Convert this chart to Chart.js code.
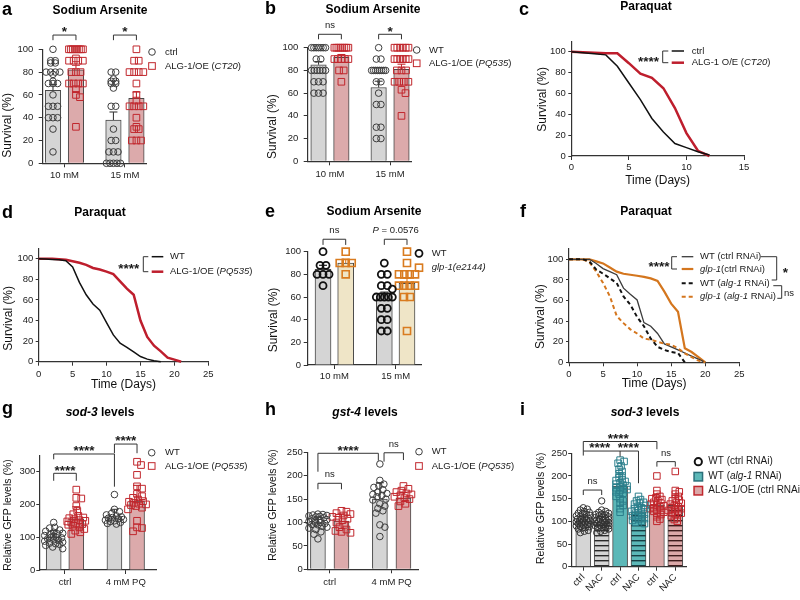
<!DOCTYPE html>
<html>
<head>
<meta charset="utf-8">
<script src="https://cdn.jsdelivr.net/npm/chart.js@4.4.1/dist/chart.umd.min.js"></script>
<style>
  body { margin: 0; width: 800px; height: 600px; position: relative; overflow: hidden; background: #fff; }
  canvas { position: absolute; }
  .lt { position: absolute; font: bold 18px 'Liberation Sans', Arial, sans-serif; line-height: 1; color: #000; }
  .tt { position: absolute; font: bold 12px 'Liberation Sans', Arial, sans-serif; line-height: 1; color: #000; transform: translateX(-50%); white-space: nowrap; }
</style>
</head>
<body>
<canvas id="pa" width="266" height="200" style="left:0;top:0"></canvas>
<canvas id="pb" width="266" height="200" style="left:266px;top:0"></canvas>
<canvas id="pc" width="268" height="200" style="left:532px;top:0"></canvas>
<canvas id="pd" width="266" height="200" style="left:0;top:200px"></canvas>
<canvas id="pe" width="266" height="200" style="left:266px;top:200px"></canvas>
<canvas id="pf" width="268" height="200" style="left:532px;top:200px"></canvas>
<canvas id="pg" width="266" height="200" style="left:0;top:400px"></canvas>
<canvas id="ph" width="266" height="200" style="left:266px;top:400px"></canvas>
<canvas id="pi" width="268" height="200" style="left:532px;top:400px"></canvas>

<div class="lt" style="left:2px;top:-0.2px">a</div>
<div class="lt" style="left:265px;top:-1.2px">b</div>
<div class="lt" style="left:519px;top:-0.2px">c</div>
<div class="lt" style="left:2px;top:202.8px">d</div>
<div class="lt" style="left:265px;top:201.8px">e</div>
<div class="lt" style="left:520px;top:201.8px">f</div>
<div class="lt" style="left:2px;top:398.8px">g</div>
<div class="lt" style="left:265px;top:399.8px">h</div>
<div class="lt" style="left:520px;top:399.8px">i</div>

<div class="tt" style="left:100px;top:3.8px">Sodium Arsenite</div>
<div class="tt" style="left:373px;top:3.1px">Sodium Arsenite</div>
<div class="tt" style="left:646px;top:0.3px">Paraquat</div>
<div class="tt" style="left:100px;top:206.3px">Paraquat</div>
<div class="tt" style="left:374px;top:204.8px">Sodium Arsenite</div>
<div class="tt" style="left:646px;top:204.8px">Paraquat</div>
<div class="tt" style="left:100px;top:406.3px"><i>sod-3</i> levels</div>
<div class="tt" style="left:365px;top:406.3px"><i>gst-4</i> levels</div>
<div class="tt" style="left:645px;top:406.3px"><i>sod-3</i> levels</div>

<script>
const F = "'Liberation Sans', Arial, sans-serif";

// a - sodium arsenite, ctrl vs ALG-1/OE (CT20)
const aGroups = ['10 mM', '15 mM'];
const aCtrlBar = [64, 38];
const aCtrlErr = [5, 7];
const aOeBar = [82, 57];
const aOeErr = [4, 5.5];
const aCtrl10 = [100, 90, 90, 88, 88, 80, 80, 80, 80, 78, 72, 70, 70, 70, 60, 50, 50, 50, 40, 40, 40, 30, 10];
const aOe10 = [100, 100, 100, 100, 100, 100, 100, 100, 92, 90, 90, 90, 90, 80, 80, 80, 70, 70, 70, 70, 65, 60, 58, 32];
const aCtrl15 = [80, 80, 74, 72, 72, 70, 70, 66, 50, 50, 30, 20, 20, 10, 10, 10, 0, 0, 0, 0, 0];
const aOe15 = [100, 90, 90, 80, 80, 80, 80, 70, 60, 55, 50, 50, 50, 50, 40, 32, 30, 30, 20, 20, 20];

// b - sodium arsenite, WT vs ALG-1/OE (PQ535)
const bGroups = ['10 mM', '15 mM'];
const bWtBar = [85, 65];
const bWtErr = [2.8, 5.5];
const bOeBar = [91.5, 81];
const bOeErr = [2.5, 4.5];
const bWt10 = [100, 100, 100, 100, 100, 100, 100, 90, 90, 80, 80, 80, 80, 80, 80, 70, 70, 70, 60, 60, 60];
const bOe10 = [100, 100, 100, 100, 100, 100, 100, 100, 90, 90, 90, 90, 90, 80, 80, 70];
const bWt15 = [100, 90, 90, 80, 80, 80, 80, 80, 80, 80, 80, 70, 70, 60, 50, 50, 30, 30, 20, 20];
const bOe15 = [100, 100, 100, 100, 100, 100, 90, 90, 90, 90, 90, 90, 80, 80, 80, 70, 70, 70, 70, 63, 60, 40];

// c - paraquat survival, CT20
const cDays = [0, 1, 2, 3, 4, 5, 6, 7, 8, 9, 10, 11, 12];
const cCtrl = [100, 99, 98, 97, 86, 70, 54, 36, 23, 12, 8, 4, 1];
const cOe = [100, 99.5, 99, 98.5, 98.5, 89, 79, 75, 65, 46, 22, 5, 0];

// d - paraquat survival, PQ535
const dDays = [0, 1, 2, 3, 4, 5, 6, 7, 8, 9, 10, 11, 12, 13, 14, 15, 16, 17, 18, 19, 20, 21];
const dWt = [100, 99.7, 99.3, 99, 98, 92, 77, 65, 56, 50, 38, 26, 18, 14, 9.5, 5, 2.5, 1, 0];
const dOe = [100, 100, 100, 99.5, 99, 97.5, 96, 94, 91, 89.5, 87.5, 85, 78, 71, 65, 40, 24, 15.5, 10, 4, 2, 0];

// e - sodium arsenite, WT vs glp-1
const eGroups = ['10 mM', '15 mM'];
const eWtBar = [84.5, 60.3];
const eWtErr = [3.5, 4];
const eGlpBar = [90, 72];
const eGlpErr = [3.5, 4.5];
const eWt10 = [100, 88, 88, 80, 80, 80, 70];
const eGlp10 = [100, 90, 90, 90, 80];
const eWt15 = [90, 80, 80, 70, 70, 67, 60, 60, 60, 60, 60, 50, 50, 40, 40, 30, 30];
const eGlp15 = [100, 90, 80, 80, 80, 80, 70, 70, 70, 70, 60, 60, 30];

// f - paraquat survival, glp-1 with alg-1 RNAi
const fDays = [0, 1, 2, 3, 4, 5, 6, 7, 8, 9, 10, 11, 12, 13, 14, 15, 16, 17, 18, 19, 20];
const fWtCtrl = [100, 100, 100, 100, 96, 91, 88, 85, 72, 66, 60.5, 38.5, 35, 28, 17.8, 15, 12, 9, 6, 3, 0];
const fGlpCtrl = [100, 100, 100, 100, 98, 96, 92, 88, 86, 85, 84, 83, 81.5, 79, 68.6, 57, 49, 13.6, 10, 5, 0];
const fWtAlg = [100, 100, 100, 98, 90, 86, 81.5, 77, 64, 56, 44, 35, 23, 15, 12, 10, 9, 0];
const fGlpAlg = [100, 100, 100, 97, 88, 77, 64, 45, 38, 32, 28, 23, 22, 20, 18, 17, 13.6, 8.7, 5, 1.6, 0];

// g - sod-3 levels
const gGroups = ['ctrl', '4 mM PQ'];
const gWtBar = [100, 163];
const gWtErr = [20, 22];
const gOeBar = [156, 210];
const gOeErr = [37, 48];
const gWtCtrl = [145, 130, 128, 122, 118, 115, 112, 110, 108, 105, 103, 100, 100, 98, 95, 92, 90, 88, 85, 82, 80, 78, 75, 70, 65];
const gOeCtrl = [245, 220, 218, 195, 180, 170, 165, 160, 158, 155, 152, 150, 148, 145, 142, 140, 138, 135, 130, 125, 120, 115, 110];
const gWtPq = [230, 185, 178, 172, 168, 165, 162, 160, 158, 156, 154, 152, 150, 148, 145, 142, 140];
const gOePq = [330, 320, 290, 255, 248, 232, 225, 220, 215, 210, 208, 205, 202, 200, 198, 195, 190, 185, 150, 130, 128, 118];

// h - gst-4 levels
const hGroups = ['ctrl', '4 mM PQ'];
const hWtBar = [100, 150];
const hWtErr = [12, 35];
const hOeBar = [103, 152];
const hOeErr = [15, 12];
const hWtCtrl = [118, 117, 116, 115, 114, 113, 112, 110, 108, 106, 105, 103, 102, 100, 100, 98, 96, 95, 92, 90, 88, 85, 80, 75, 65];
const hOeCtrl = [125, 123, 120, 118, 115, 112, 110, 108, 105, 100, 95, 90, 85, 82, 80, 78];
const hWtPq = [225, 190, 182, 178, 175, 170, 165, 162, 160, 158, 155, 150, 148, 140, 135, 130, 125, 120, 95, 90, 70];
const hOePq = [178, 172, 168, 165, 162, 160, 158, 155, 152, 150, 145, 140, 135];

// i - sod-3 levels with NAC
const iLabels = ['ctrl', 'NAC', 'ctrl', 'NAC', 'ctrl', 'NAC'];
const iBar = [100, 99, 178, 121, 136, 136];
const iErr = [12, 12, 28, 15, 20, 22];
const iWtCtrl = [130, 127, 125, 122, 120, 118, 116, 115, 113, 112, 110, 108, 107, 105, 104, 103, 102, 101, 100, 99, 98, 97, 96, 95, 94, 93, 92, 90, 89, 88, 86, 85, 83, 80, 78, 75];
const iWtNac = [145, 125, 122, 120, 118, 116, 115, 114, 112, 110, 109, 108, 106, 105, 104, 103, 102, 101, 100, 99, 98, 97, 96, 95, 94, 93, 92, 91, 90, 88, 86, 85, 83, 80, 78, 75];
const iAlgCtrl = [235, 232, 228, 222, 215, 210, 205, 200, 196, 192, 190, 188, 185, 182, 180, 178, 176, 174, 172, 170, 168, 165, 162, 160, 155, 150, 145, 140, 135, 128, 120];
const iAlgNac = [155, 148, 145, 142, 140, 138, 135, 133, 130, 128, 126, 124, 122, 120, 118, 116, 114, 112, 110, 108, 106, 104, 102, 100, 98, 95];
const iOeCtrl = [200, 168, 160, 155, 152, 150, 148, 145, 142, 140, 138, 136, 134, 132, 130, 128, 126, 124, 122, 120, 118, 115, 110, 105, 100];
const iOeNac = [210, 168, 165, 160, 155, 150, 147, 145, 142, 140, 138, 135, 132, 130, 128, 126, 124, 122, 120, 118, 115, 112, 108, 104, 100];

Chart.defaults.font.family = F;
Chart.defaults.color = '#222';
Chart.defaults.animation = false;
Chart.defaults.responsive = false;
Chart.defaults.plugins.legend.display = false;
Chart.defaults.plugins.tooltip.enabled = false;

function stripes(fill, line) {
  const c = document.createElement('canvas');
  c.width = 8; c.height = 5;
  const g = c.getContext('2d');
  g.fillStyle = fill; g.fillRect(0, 0, 8, 5);
  g.fillStyle = line; g.fillRect(0, 0, 8, 1.4);
  return g.createPattern(c, 'repeat');
}

const ST = {
  wt: { fill: '#d5d5d5', c: '#3d3d3d', shape: 'circle', r: 3.3, lw: 1 },
  oe: { fill: '#dcaaab', c: '#c1272d', shape: 'rect', r: 4.7, lw: 1 },
  ewt: { fill: '#d5d5d5', c: '#111', shape: 'circle', r: 3.5, lw: 1.8 },
  glp: { fill: '#efe5c7', c: '#d97b1f', shape: 'rect', r: 5, lw: 1.6 },
  iwt: { fill: '#d5d5d5', c: '#333', shape: 'circle', r: 3.2, lw: 1 },
  iwtN: { fill: stripes('#d5d5d5', '#2a2a2a'), c: '#333', shape: 'circle', r: 3.2, lw: 1 },
  ialg: { fill: '#5cb8b8', c: '#2b7f8c', shape: 'rect', r: 4.6, lw: 1 },
  ialgN: { fill: stripes('#5cb8b8', '#173f45'), c: '#2b7f8c', shape: 'rect', r: 4.6, lw: 1 },
  ioe: { fill: '#dba8a8', c: '#c1272d', shape: 'rect', r: 4.6, lw: 1 },
  ioeN: { fill: stripes('#dba8a8', '#3d1c1c'), c: '#c1272d', shape: 'rect', r: 4.6, lw: 1 }
};

// lay points out in rows: repeated values side by side, single values pushed aside on collision
function swarm(vals, cx, sx, sy, d, maxHalf) {
  const placed = [], out = [];
  const rows = {};
  vals.forEach(v => { rows[v] = (rows[v] || 0) + 1; });
  Object.keys(rows).map(Number).sort((a, b) => b - a).forEach(v => {
    const n = rows[v], py = v * sy;
    if (n > 1) {
      const sp = Math.min(d, 2 * maxHalf / (n - 1));
      for (let k = 0; k < n; k++) {
        const off = (k - (n - 1) / 2) * sp;
        placed.push([off, py]);
        out.push({ x: cx + off / sx, y: v });
      }
      return;
    }
    let best = 0, bestD = -1;
    for (let k = 0; k <= 2 * Math.round(maxHalf); k++) {
      const off = (k % 2 ? 1 : -1) * Math.ceil(k / 2);
      let m = Infinity;
      placed.forEach(p => { m = Math.min(m, Math.hypot(p[0] - off, p[1] - py)); });
      if (m >= d) { best = off; break; }
      if (m > bestD + 0.01) { bestD = m; best = off; }
    }
    placed.push([best, py]);
    out.push({ x: cx + best / sx, y: v });
  });
  return out;
}

// text with _italic_ parts
function rich(ctx, str, x, y, size, color, align, base, weight) {
  const segs = str.split('_');
  const fontOf = i => [i % 2 ? 'italic' : '', weight || '', size + 'px', F].filter(Boolean).join(' ');
  let w = 0;
  segs.forEach((t, i) => { ctx.font = fontOf(i); w += ctx.measureText(t).width; });
  let cx = align === 'center' ? x - w / 2 : x;
  ctx.fillStyle = color; ctx.textAlign = 'left'; ctx.textBaseline = base || 'middle';
  segs.forEach((t, i) => {
    if (!t) return;
    ctx.font = fontOf(i);
    ctx.fillText(t, cx, y);
    cx += ctx.measureText(t).width;
  });
}

function poly(ctx, pts, color, lw) {
  ctx.save();
  ctx.strokeStyle = color || '#333'; ctx.lineWidth = lw || 1;
  ctx.beginPath();
  pts.forEach((p, i) => i ? ctx.lineTo(p[0], p[1]) : ctx.moveTo(p[0], p[1]));
  ctx.stroke();
  ctx.restore();
}

function centerText(ctx, t, x, yc) {
  if (/^\*+$/.test(t)) rich(ctx, t, x, yc + 7.8, 13.5, '#1a1a1a', 'center', 'alphabetic', 'bold');
  else rich(ctx, t, x, yc, 9.5, '#1a1a1a', 'center', 'middle');
}

function deco(s) {
  const D = s.deco || {};
  return {
    id: 'deco',
    afterDatasetsDraw(chart) {
      const { ctx, scales: { x, y } } = chart;
      (s.bars || []).forEach(b => {
        const px = x.getPixelForValue(b.x);
        const y0 = y.getPixelForValue(b.v), y1 = y.getPixelForValue(b.v + b.e);
        poly(ctx, [[px, y0], [px, y1]], ST[b.st].c, 1.1);
        poly(ctx, [[px - 4, y1], [px + 4, y1]], ST[b.st].c, 1.1);
      });
    },
    afterDraw(chart) {
      const { ctx, scales: { x, y } } = chart;
      (D.brackets || []).forEach(b => {
        const X1 = x.getPixelForValue(b.x1), X2 = x.getPixelForValue(b.x2), Y = y.getPixelForValue(b.y);
        poly(ctx, [[X1, y.getPixelForValue(b.b1)], [X1, Y], [X2, Y], [X2, y.getPixelForValue(b.b2)]]);
        if (b.mid) poly(ctx, [[x.getPixelForValue(b.mid[0]), Y], [x.getPixelForValue(b.mid[0]), y.getPixelForValue(b.mid[1])]]);
        const labels = b.labels || [[b.tx || (b.x1 + b.x2) / 2, b.t]];
        labels.forEach(([lx, t]) => {
          const star = /^\*+$/.test(t);
          centerText(ctx, t, x.getPixelForValue(lx), Y - (star ? 6.5 : 8.5));
        });
      });
      (D.lines || []).forEach(p => poly(ctx, p, '#333', 1));
      (D.texts || []).forEach(t => {
        if (t.left) rich(ctx, t.t, t.x, t.y, 9.5, '#1a1a1a', 'left', 'middle');
        else centerText(ctx, t.t, t.x, t.y);
      });
      const L = D.legend;
      if (L) {
        L.items.forEach((it, i) => {
          const yy = L.rows[i];
          ctx.save();
          ctx.strokeStyle = it.c; ctx.lineWidth = it.lw;
          if (it.mark === 'line') {
            ctx.setLineDash(it.dash || []);
            ctx.beginPath(); ctx.moveTo(L.lx[0], yy); ctx.lineTo(L.lx[1], yy); ctx.stroke();
          } else if (it.mark === 'circle') {
            ctx.beginPath(); ctx.arc(L.x, yy, it.r, 0, 2 * Math.PI); ctx.stroke();
          } else {
            const h = it.s / 2;
            if (it.fill) { ctx.fillStyle = it.fill; ctx.fillRect(L.x - h, yy - h, it.s, it.s); }
            ctx.strokeRect(L.x - h, yy - h, it.s, it.s);
          }
          ctx.restore();
          rich(ctx, it.text, L.tx, yy, L.size || 9.5, '#1a1a1a', 'left', 'middle');
        });
      }
      const T = D.ytitle;
      if (T) {
        ctx.save();
        ctx.translate(T.x, T.y); ctx.rotate(-Math.PI / 2);
        ctx.font = `${T.size}px ${F}`; ctx.fillStyle = '#111';
        ctx.textAlign = 'center'; ctx.textBaseline = 'middle';
        ctx.fillText(T.t, 0, 0);
        ctx.restore();
      }
    }
  };
}

function pad(s) {
  return { left: 0, top: s.area.t, right: s.W - s.area.r, bottom: 200 - s.area.b - s.xH };
}

function axes(s) {
  const tf = { size: 9.5, family: F };
  const grid = { display: true, drawOnChartArea: false, drawTicks: true, color: '#333', offset: false };
  const border = { display: true, color: '#333', width: 1.2 };
  const xTicks = { color: '#222', font: tf, padding: s.xPad, autoSkip: false, maxRotation: s.rot || 0, minRotation: s.rot || 0 };
  if (s.xStep) xTicks.stepSize = s.xStep;
  if (s.xLabels) xTicks.callback = (v, i) => s.xLabels[i];
  return {
    x: {
      type: 'linear', min: s.xMin, max: s.xMax, offset: false,
      grid: { ...grid, tickLength: 4 }, border, ticks: xTicks,
      afterBuildTicks: a => { if (s.xTicks) a.ticks = s.xTicks.map(v => ({ value: v })); },
      title: s.xTitle ? { display: true, text: s.xTitle, color: '#111', font: { size: 12, family: F }, padding: 0 } : { display: false },
      afterFit: a => { a.height = s.xH; }
    },
    y: {
      type: 'linear', min: 0, max: s.yMax,
      grid: { ...grid, tickLength: s.yGap[0] }, border,
      ticks: { color: '#222', font: tf, padding: s.yGap[1], autoSkip: false },
      afterBuildTicks: a => {
        const t = [];
        for (let v = 0; v <= s.yTop + 1e-6; v += s.yStep) t.push({ value: v });
        a.ticks = t;
      },
      afterFit: a => { a.width = s.area.l; }
    }
  };
}

function barChart(id, s) {
  const A = s.area;
  const sx = (A.r - A.l) / (s.xMax - s.xMin), sy = (A.b - A.t) / s.yMax;
  const datasets = [{
    type: 'bar', order: 3, grouped: false, barThickness: s.barW,
    data: s.bars.map(b => ({ x: b.x, y: b.v })),
    backgroundColor: s.bars.map(b => ST[b.st].fill),
    borderColor: '#474747', borderWidth: 1
  }];
  s.bars.forEach(b => {
    const st = ST[b.st];
    datasets.push({
      type: 'scatter', order: 1, clip: false,
      data: swarm(b.pts, b.x, sx, sy, s.sw[0], s.sw[1]),
      pointStyle: st.shape, pointRadius: st.r, pointBorderWidth: st.lw,
      pointBorderColor: st.c, pointBackgroundColor: 'rgba(0,0,0,0)'
    });
  });
  return new Chart(document.getElementById(id), {
    type: 'bar',
    data: { datasets },
    options: { layout: { padding: pad(s) }, scales: axes(s) },
    plugins: [deco(s)]
  });
}

function lineChart(id, s) {
  return new Chart(document.getElementById(id), {
    type: 'line',
    data: {
      datasets: s.lines.map(l => ({
        data: l.v.map((v, i) => ({ x: l.days[i], y: v })),
        borderColor: l.c, borderWidth: l.w, borderDash: l.dash || [],
        pointRadius: 0, tension: 0, fill: false, clip: false
      }))
    },
    options: { layout: { padding: pad(s) }, scales: axes(s) },
    plugins: [deco(s)]
  });
}

function pairs(off, l, r) {
  const out = [];
  l.bar.forEach((v, i) => {
    out.push({ x: i + 1 - off, v, e: l.err[i], pts: l.pts[i], st: l.st });
    out.push({ x: i + 1 + off, v: r.bar[i], e: r.err[i], pts: r.pts[i], st: r.st });
  });
  return out;
}

function li(key, text) {
  const st = ST[key];
  return st.shape === 'circle'
    ? { mark: 'circle', c: st.c, lw: st.lw, r: st.r, text }
    : { mark: 'rect', c: st.c, lw: st.lw, s: st.r * 1.414, text };
}

const survival = 'Survival (%)';
const gfp = 'Relative GFP levels (%)';

barChart('pa', {
  W: 266, area: { l: 42.7, t: 49.3, r: 146.7, b: 163.3 }, xH: 22, xPad: 2,
  xMin: 0.64, xMax: 2.36, xTicks: [1, 2], xLabels: aGroups,
  yMax: 100, yStep: 20, yTop: 100, yGap: [4, 5.4], barW: 15.5, sw: [4.6, 7],
  bars: pairs(0.19, { bar: aCtrlBar, err: aCtrlErr, pts: [aCtrl10, aCtrl15], st: 'wt' },
                    { bar: aOeBar, err: aOeErr, pts: [aOe10, aOe15], st: 'oe' }),
  deco: {
    brackets: [
      { x1: 0.81, x2: 1.19, y: 112.5, b1: 108, b2: 108, t: '*' },
      { x1: 1.81, x2: 2.19, y: 112.5, b1: 108, b2: 108, t: '*' }
    ],
    legend: { x: 152, tx: 165, rows: [52, 66], items: [li('wt', 'ctrl'), li('oe', 'ALG-1/OE (_CT20_)')] },
    ytitle: { t: survival, x: 7.3, y: 125.3, size: 12 }
  }
});

barChart('pb', {
  W: 266, area: { l: 41.7, t: 47.7, r: 145.7, b: 161.3 }, xH: 22, xPad: 3.5,
  xMin: 0.63, xMax: 2.36, xTicks: [1, 2], xLabels: bGroups,
  yMax: 100, yStep: 20, yTop: 100, yGap: [4, 5.4], barW: 15.5, sw: [4.6, 7],
  bars: pairs(0.19, { bar: bWtBar, err: bWtErr, pts: [bWt10, bWt15], st: 'wt' },
                    { bar: bOeBar, err: bOeErr, pts: [bOe10, bOe15], st: 'oe' }),
  deco: {
    brackets: [
      { x1: 0.81, x2: 1.19, y: 111.8, b1: 107.4, b2: 107.4, t: 'ns' },
      { x1: 1.81, x2: 2.19, y: 111.8, b1: 107.4, b2: 107.4, t: '*' }
    ],
    legend: { x: 150.7, tx: 163, rows: [50, 63.3], items: [li('wt', 'WT'), li('oe', 'ALG-1/OE (_PQ535_)')] },
    ytitle: { t: survival, x: 6.3, y: 126.7, size: 12 }
  }
});

lineChart('pc', {
  W: 268, area: { l: 39.3, t: 41.3, r: 212, b: 156 }, xH: 31.5, xPad: 1.5,
  xMin: 0, xMax: 15, xStep: 5, xTitle: 'Time (Days)',
  yMax: 110, yStep: 20, yTop: 100, yGap: [3, 2.5],
  lines: [
    { days: cDays, v: cCtrl, c: '#111', w: 1.5 },
    { days: cDays, v: cOe, c: '#be1e2d', w: 2.5 }
  ],
  deco: {
    legend: { lx: [139.7, 152], tx: 159.7, rows: [51, 62.7], items: [
      { mark: 'line', c: '#111', lw: 1.5, text: 'ctrl' },
      { mark: 'line', c: '#be1e2d', lw: 2.5, text: 'ALG-1 O/E (_CT20_)' }
    ] },
    lines: [[[136.3, 51], [130.7, 51], [130.7, 62.7], [136.3, 62.7]]],
    texts: [{ t: '****', x: 116.5, y: 58 }],
    ytitle: { t: survival, x: 10.8, y: 99.3, size: 12 }
  }
});

lineChart('pd', {
  W: 266, area: { l: 38.7, t: 48.4, r: 208.3, b: 161.7 }, xH: 30.5, xPad: 2.8,
  xMin: 0, xMax: 25, xStep: 5, xTitle: 'Time (Days)',
  yMax: 110, yStep: 20, yTop: 100, yGap: [3, 2.4],
  lines: [
    { days: dDays, v: dWt, c: '#111', w: 1.5 },
    { days: dDays, v: dOe, c: '#be1e2d', w: 2.5 }
  ],
  deco: {
    legend: { lx: [151.7, 163.3], tx: 170, rows: [56.7, 71.7], items: [
      { mark: 'line', c: '#111', lw: 1.5, text: 'WT' },
      { mark: 'line', c: '#be1e2d', lw: 2.5, text: 'ALG-1/OE (_PQ535_)' }
    ] },
    lines: [[[148.3, 56.7], [143.3, 56.7], [143.3, 71.7], [148.3, 71.7]]],
    texts: [{ t: '****', x: 128.7, y: 65.5 }],
    ytitle: { t: survival, x: 8.3, y: 118.3, size: 12 }
  }
});

barChart('pe', {
  W: 266, area: { l: 41.7, t: 51.7, r: 155.7, b: 165 }, xH: 22, xPad: 1.5,
  xMin: 0.565, xMax: 2.425, xTicks: [1, 2], xLabels: eGroups,
  yMax: 100, yStep: 20, yTop: 100, yGap: [4, 2.7], barW: 16, sw: [6, 8],
  bars: pairs(0.185, { bar: eWtBar, err: eWtErr, pts: [eWt10, eWt15], st: 'ewt' },
                     { bar: eGlpBar, err: eGlpErr, pts: [eGlp10, eGlp15], st: 'glp' }),
  deco: {
    brackets: [
      { x1: 0.815, x2: 1.185, y: 111, b1: 106, b2: 106, t: 'ns' },
      { x1: 1.815, x2: 2.185, y: 111, b1: 106, b2: 106, t: '_P_ = 0.0576' }
    ],
    legend: { x: 153, tx: 165.7, rows: [53.3, 67.7], items: [li('ewt', 'WT'), li('glp', '_glp-1(e2144)_')] },
    ytitle: { t: survival, x: 7.3, y: 120, size: 12 }
  }
});

lineChart('pf', {
  W: 268, area: { l: 37, t: 49, r: 207.3, b: 162.3 }, xH: 28.9, xPad: 2.2,
  xMin: 0, xMax: 25, xStep: 5, xTitle: 'Time (Days)',
  yMax: 110, yStep: 20, yTop: 100, yGap: [3, 2.7],
  lines: [
    { days: fDays, v: fWtAlg, c: '#111', w: 2, dash: [4, 3] },
    { days: fDays, v: fGlpAlg, c: '#d4761e', w: 2, dash: [4, 3] },
    { days: fDays, v: fWtCtrl, c: '#3c3c3c', w: 1.3 },
    { days: fDays, v: fGlpCtrl, c: '#d4761e', w: 2.2 }
  ],
  deco: {
    legend: { lx: [149.7, 161.3], tx: 168, rows: [56.7, 69, 83.3, 96.7], items: [
      { mark: 'line', c: '#3c3c3c', lw: 1.3, text: 'WT (ctrl RNAi)' },
      { mark: 'line', c: '#d4761e', lw: 2.2, text: '_glp-1_(ctrl RNAi)' },
      { mark: 'line', c: '#111', lw: 2, dash: [4, 3], text: 'WT (_alg-1_ RNAi)' },
      { mark: 'line', c: '#d4761e', lw: 2, dash: [4, 3], text: '_glp-1_ (_alg-1_ RNAi)' }
    ] },
    lines: [
      [[145, 56.7], [139.7, 56.7], [139.7, 69], [145, 69]],
      [[228.7, 56.7], [244.7, 56.7], [244.7, 80], [239.7, 80]],
      [[241.3, 85.7], [249.7, 85.7], [249.7, 98.3], [245.3, 98.3]]
    ],
    texts: [
      { t: '****', x: 127, y: 63 },
      { t: '*', x: 253.5, y: 69 },
      { t: 'ns', x: 252, y: 93.3, left: true }
    ],
    ytitle: { t: survival, x: 8.7, y: 116.7, size: 12 }
  }
});

barChart('pg', {
  W: 266, area: { l: 39.3, t: 55.2, r: 156.7, b: 170 }, xH: 22, xPad: 2.5,
  xMin: 0.577, xMax: 2.51, xTicks: [1, 2], xLabels: gGroups,
  yMax: 350, yStep: 100, yTop: 300, yGap: [3, 1], barW: 15, sw: [5, 9],
  bars: pairs(0.186, { bar: gWtBar, err: gWtErr, pts: [gWtCtrl, gWtPq], st: 'wt' },
                     { bar: gOeBar, err: gOeErr, pts: [gOeCtrl, gOePq], st: 'oe' }),
  deco: {
    brackets: [
      { x1: 0.814, x2: 1.186, y: 294.8, b1: 272, b2: 272, t: '****' },
      { x1: 0.814, x2: 1.814, y: 353.7, b1: 337.5, b2: 254, t: '****' },
      { x1: 1.814, x2: 2.186, y: 384, b1: 356, b2: 356, t: '****' }
    ],
    legend: { x: 151.7, tx: 165, rows: [52.7, 66], items: [li('wt', 'WT'), li('oe', 'ALG-1/OE (_PQ535_)')] },
    ytitle: { t: gfp, x: 8, y: 115, size: 10.5 }
  }
});

barChart('ph', {
  W: 266, area: { l: 41.7, t: 52.3, r: 152.3, b: 169.3 }, xH: 22, xPad: 3,
  xMin: 0.645, xMax: 2.43, xTicks: [1, 2], xLabels: hGroups,
  yMax: 250, yStep: 50, yTop: 250, yGap: [4, 1], barW: 15, sw: [5, 9],
  bars: pairs(0.19, { bar: hWtBar, err: hWtErr, pts: [hWtCtrl, hWtPq], st: 'wt' },
                    { bar: hOeBar, err: hOeErr, pts: [hOeCtrl, hOePq], st: 'oe' }),
  deco: {
    brackets: [
      { x1: 0.81, x2: 1.19, y: 183.8, b1: 171, b2: 171, t: 'ns' },
      { x1: 0.81, x2: 1.785, y: 247.9, b1: 208.5, b2: 232, t: '****' },
      { x1: 1.877, x2: 2.19, y: 249, b1: 230, b2: 233.5, t: 'ns' }
    ],
    legend: { x: 153, tx: 165.7, rows: [51.7, 66], items: [li('wt', 'WT'), li('oe', 'ALG-1/OE (_PQ535_)')] },
    ytitle: { t: gfp, x: 7, y: 105, size: 10.5 }
  }
});

const iStyles = ['iwt', 'iwtN', 'ialg', 'ialgN', 'ioe', 'ioeN'];
const iPts = [iWtCtrl, iWtNac, iAlgCtrl, iAlgNac, iOeCtrl, iOeNac];
barChart('pi', {
  W: 268, area: { l: 39.7, t: 53.3, r: 154.7, b: 166.7 }, xH: 30, xPad: 1, rot: 45,
  xMin: 0.37, xMax: 6.62, xTicks: [1, 2, 3, 4, 5, 6], xLabels: iLabels,
  yMax: 250, yStep: 50, yTop: 250, yGap: [3.5, 1], barW: 15, sw: [3.5, 7],
  bars: iBar.map((v, i) => ({ x: i + 1, v, e: iErr[i], pts: iPts[i], st: iStyles[i] })),
  deco: {
    brackets: [
      { x1: 1, x2: 2, y: 169, b1: 158, b2: 158, t: 'ns' },
      { x1: 1, x2: 4, y: 255, b1: 245, b2: 184, mid: [3, 242.6], labels: [[1.9, '****'], [3.45, '****']] },
      { x1: 1, x2: 5, y: 276, b1: 255, b2: 259, t: '****', tx: 2.9 },
      { x1: 5, x2: 6, y: 231.6, b1: 220.6, b2: 220.6, t: 'ns' }
    ],
    legend: { x: 166.3, tx: 176.3, rows: [61.7, 76.7, 90.7], size: 10, items: [
      { mark: 'circle', c: '#111', lw: 2, r: 3.6, text: 'WT (ctrl RNAi)' },
      { mark: 'rect', fill: '#5cb8b8', c: '#2b6f7a', lw: 1.5, s: 8.5, text: 'WT (_alg-1_ RNAi)' },
      { mark: 'rect', fill: '#dba8a8', c: '#c1272d', lw: 1.5, s: 8.5, text: 'ALG-1/OE (ctrl RNAi)' }
    ] },
    ytitle: { t: gfp, x: 9.3, y: 108.3, size: 10.5 }
  }
});
</script>
</body>
</html>
